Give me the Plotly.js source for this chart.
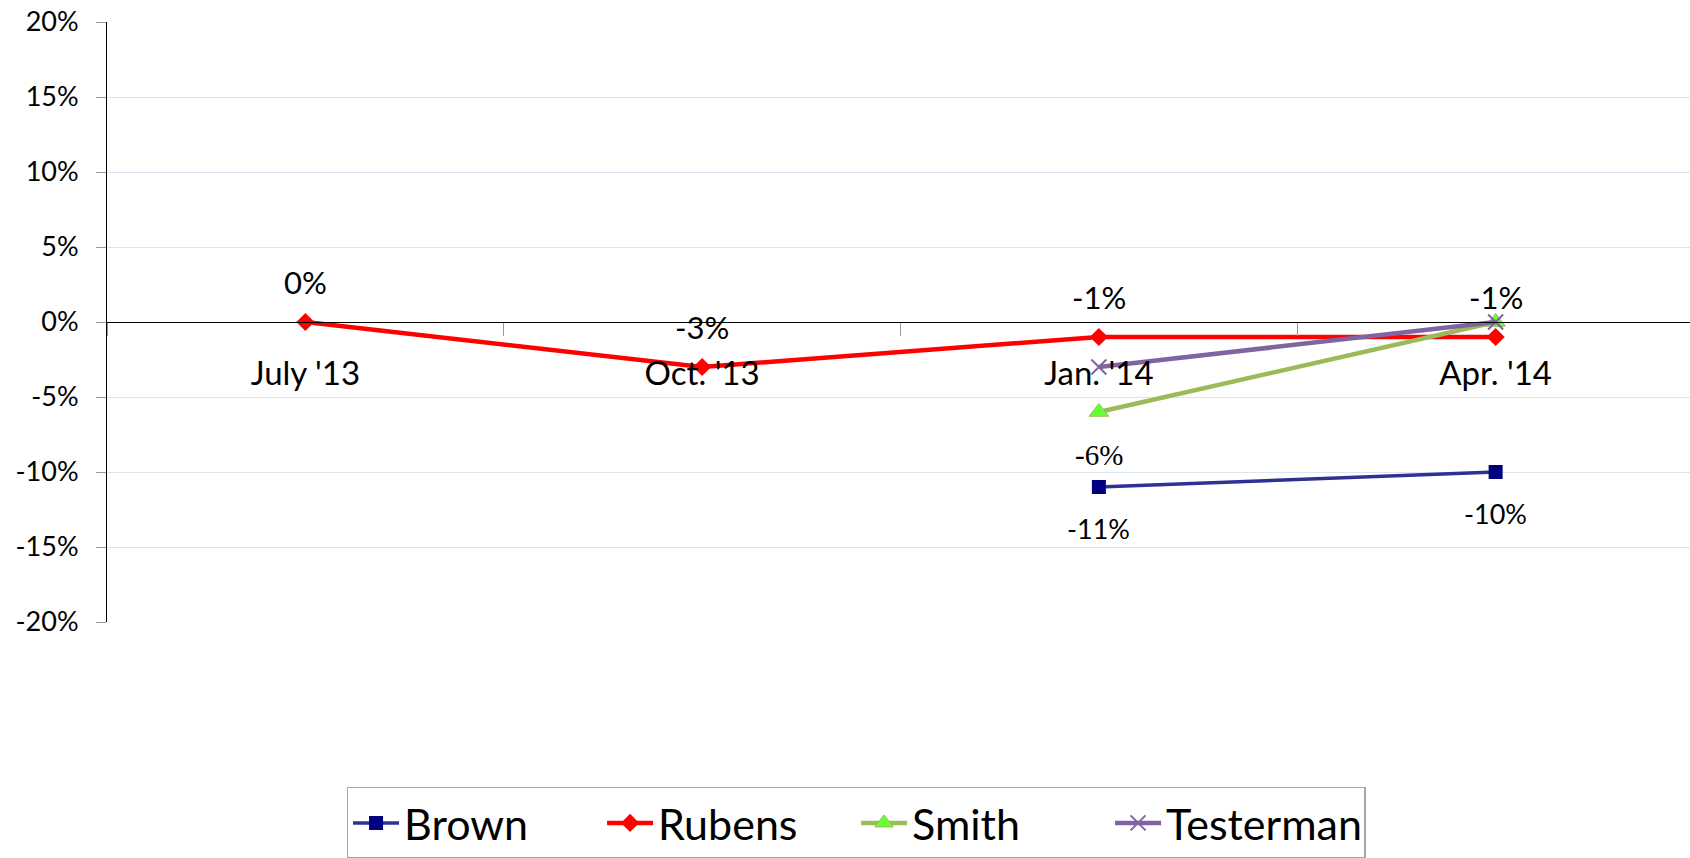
<!DOCTYPE html>
<html>
<head>
<meta charset="utf-8">
<script src="https://cdn.plot.ly/plotly-3.0.1.min.js"></script>
<style>
  html, body { margin: 0; padding: 0; background: #ffffff; overflow: hidden; }
  #chart { width: 1694px; height: 858px; }
</style>
</head>
<body>
<div id="chart"></div>
<script>
// ---- data ----
const categories = ["July '13", "Oct. '13", "Jan. '14", "Apr. '14"];
const brown     = [null, null, -11, -10];
const rubens    = [0, -3, -1, -1];
const smith     = [null, null, -6, 0];
const testerman = [null, null, -3, 0];
const yTicks    = [-20, -15, -10, -5, 0, 5, 10, 15, 20];
const yTickText = ["-20%", "-15%", "-10%", "-5%", "0%", "5%", "10%", "15%", "20%"];

// labels shown in the chart (series, category index)
const rubensLabelIdx = [0, 1, 2, 3];
const smithLabelIdx  = [2];
const brownLabelIdx  = [2, 3];

const FONT = "Lato, 'Open Sans', sans-serif";

const traces = [
  {
    name: "Brown", x: categories, y: brown, type: "scatter", mode: "lines+markers",
    line: { color: "#2e3192", width: 3.5 },
    marker: { symbol: "square", size: 14, color: "#000080" },
    cliponaxis: false
  },
  {
    name: "Rubens", x: categories, y: rubens, type: "scatter", mode: "lines+markers",
    line: { color: "#ff0000", width: 4.5 },
    marker: { symbol: "diamond", size: 14, color: "#ff0000" },
    cliponaxis: false
  },
  {
    name: "Smith", x: categories, y: smith, type: "scatter", mode: "lines+markers",
    line: { color: "#9bbb59", width: 4.5 },
    marker: { symbol: "triangle-up", size: 17, color: "#66ff33", line: { color: "#9bbb59", width: 1 } },
    cliponaxis: false
  },
  {
    name: "Testerman", x: categories, y: testerman, type: "scatter", mode: "lines+markers",
    line: { color: "#8064a2", width: 4.5 },
    marker: { symbol: "x-thin-open", size: 15, color: "#8064a2", line: { color: "#8064a2", width: 2 } },
    cliponaxis: false
  }
];

const fmt = v => v + "%";
const annotations = [];
rubensLabelIdx.forEach(i => annotations.push({
  x: categories[i], y: rubens[i], text: fmt(rubens[i]), showarrow: false,
  yshift: 40, font: { family: FONT, size: 31, color: "#000000" }
}));
smithLabelIdx.forEach(i => annotations.push({
  x: categories[i], y: smith[i], text: fmt(smith[i]), showarrow: false,
  yshift: -43, font: { family: "Liberation Serif, DejaVu Serif, serif", size: 29, color: "#000000" }
}));
brownLabelIdx.forEach(i => annotations.push({
  x: categories[i], y: brown[i], text: fmt(brown[i]), showarrow: false,
  yshift: -41, font: { family: FONT, size: 27, color: "#000000" }
}));

const layout = {
  width: 1694, height: 858,
  margin: { l: 107, r: 0, t: 22, b: 236, pad: 0 },
  paper_bgcolor: "#ffffff", plot_bgcolor: "#ffffff",
  showlegend: true,
  font: { family: FONT, color: "#000000" },
  xaxis: {
    type: "category",
    categoryorder: "array", categoryarray: categories,
    range: [-0.5, 3.5],
    anchor: "free", position: 0.5,
    showline: true, linecolor: "#000000", linewidth: 1,
    showgrid: false, zeroline: false,
    ticks: "outside", tickson: "boundaries", ticklen: 13, tickcolor: "#9a9a9a", tickwidth: 1,
    tickfont: { family: FONT, size: 33, color: "#000000" },
    ticklabelstandoff: 22,
    fixedrange: true
  },
  yaxis: {
    range: [-20, 20],
    tickvals: yTicks, ticktext: yTickText,
    showline: true, linecolor: "#000000", linewidth: 1,
    showgrid: true, gridcolor: "#dbe5f1", gridwidth: 1,
    zeroline: true, zerolinecolor: "#000000", zerolinewidth: 1,
    ticks: "outside", ticklen: 10, tickcolor: "#9a9a9a", tickwidth: 1,
    tickfont: { family: FONT, size: 27, color: "#000000" },
    ticklabelstandoff: 12,
    fixedrange: true
  },
  legend: {
    orientation: "h",
    x: 0.472, xanchor: "center",
    yref: "container", y: 0.0828, yanchor: "top",
    bgcolor: "#ffffff", bordercolor: "#a6a6a6", borderwidth: 1.5,
    font: { family: FONT, size: 43, color: "#000000" },
    itemwidth: 46,
    entrywidth: 193, entrywidthmode: "pixels",
    traceorder: "normal"
  },
  annotations: annotations
};

Plotly.newPlot("chart", traces, layout, { displayModeBar: false, staticPlot: true });
</script>
</body>
</html>
